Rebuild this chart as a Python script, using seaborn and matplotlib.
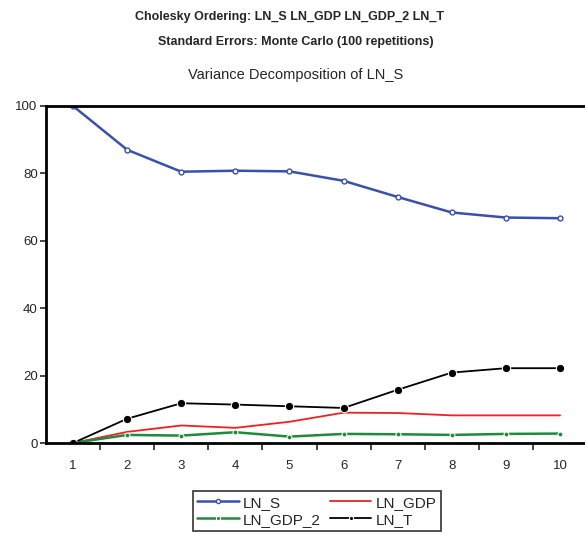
import numpy as np
import pandas as pd
import matplotlib
matplotlib.use('Agg')
import matplotlib.pyplot as plt
import seaborn as sns

# data
periods = [1, 2, 3, 4, 5, 6, 7, 8, 9, 10]
ln_s = [100.0, 87.0, 80.5, 80.8, 80.6, 77.8, 73.0, 68.4, 66.9, 66.7]
ln_gdp = [0.0, 3.3, 5.2, 4.5, 6.3, 9.0, 8.9, 8.2, 8.2, 8.2]
ln_gdp_2 = [0.0, 2.4, 2.2, 3.2, 1.9, 2.7, 2.6, 2.4, 2.7, 2.8]
ln_t = [0.0, 7.2, 11.8, 11.4, 10.9, 10.4, 15.8, 20.9, 22.2, 22.2]
series_names = ['LN_S', 'LN_GDP', 'LN_GDP_2', 'LN_T']

df = pd.DataFrame({'period': periods * 4,
                   'value': ln_s + ln_gdp + ln_gdp_2 + ln_t,
                   'series': np.repeat(series_names, len(periods))})

sns.set_style('white')
plt.rcParams['font.family'] = ['Liberation Sans', 'DejaVu Sans']

fig = plt.figure(figsize=(5.85, 5.34), dpi=100)
ax = fig.add_axes([0.0786, 0.1704, 0.925, 0.6311])

styles = {
    'LN_S': dict(color='#3a4fb0', marker='o', markersize=3.5, markerfacecolor='white',
                 markeredgecolor='#3a4fb0', markeredgewidth=1.0, linewidth=1.8),
    'LN_GDP': dict(color='#f02020', marker=None, linewidth=1.3),
    'LN_GDP_2': dict(color='#1e8a3a', marker='o', markersize=3.5, linewidth=1.8),
    'LN_T': dict(color='black', marker='o', markersize=6, linewidth=1.3),
}
for name in series_names:
    sub = df[df['series'] == name]
    sns.lineplot(data=sub, x='period', y='value', ax=ax, label=name, **styles[name])

ax.set_xlim(0.5, 10.5)
ax.set_ylim(0, 100)
ax.set_xlabel('')
ax.set_ylabel('')
ax.set_xticks(periods)
ax.set_xticks(np.arange(1.5, 10.5, 1.0), minor=True)
ax.set_yticks([0, 20, 40, 60, 80, 100])
ax.tick_params(axis='x', which='major', length=0, pad=12, labelsize=9.5)
ax.tick_params(axis='x', which='minor', length=5, width=1.2, direction='out', bottom=True)
ax.tick_params(axis='y', length=4, width=1.2, direction='out', left=True, labelsize=9.5, pad=2)
for side in ['left', 'bottom', 'top']:
    ax.spines[side].set_linewidth(2)
    ax.spines[side].set_color('black')
ax.spines['right'].set_visible(False)

# legend filled row by row: LN_S, LN_GDP / LN_GDP_2, LN_T
handles, labels = ax.get_legend_handles_labels()
order = [0, 2, 1, 3]
leg = ax.legend([handles[i] for i in order], [labels[i] for i in order],
                loc='upper center', bbox_to_anchor=(0.542, 0.0805), bbox_transform=fig.transFigure,
                ncol=2, fontsize=11, frameon=True, fancybox=False, edgecolor='black',
                handlelength=2.7, columnspacing=0.6, labelspacing=0.2, borderpad=0.3,
                handletextpad=0.3, borderaxespad=0)
leg.get_frame().set_linewidth(1.2)
for h in leg.legend_handles:
    h.set_markersize(3)

fig.text(0.495, 0.968, 'Cholesky Ordering: LN_S LN_GDP LN_GDP_2 LN_T', ha='center', va='center',
         fontsize=9, fontweight='semibold')
fig.text(0.505, 0.921, 'Standard Errors: Monte Carlo (100 repetitions)', ha='center', va='center',
         fontsize=9, fontweight='semibold')
fig.text(0.505, 0.860, 'Variance Decomposition of LN_S', ha='center', va='center', fontsize=10.5)

fig.savefig('out.png', dpi=100)
